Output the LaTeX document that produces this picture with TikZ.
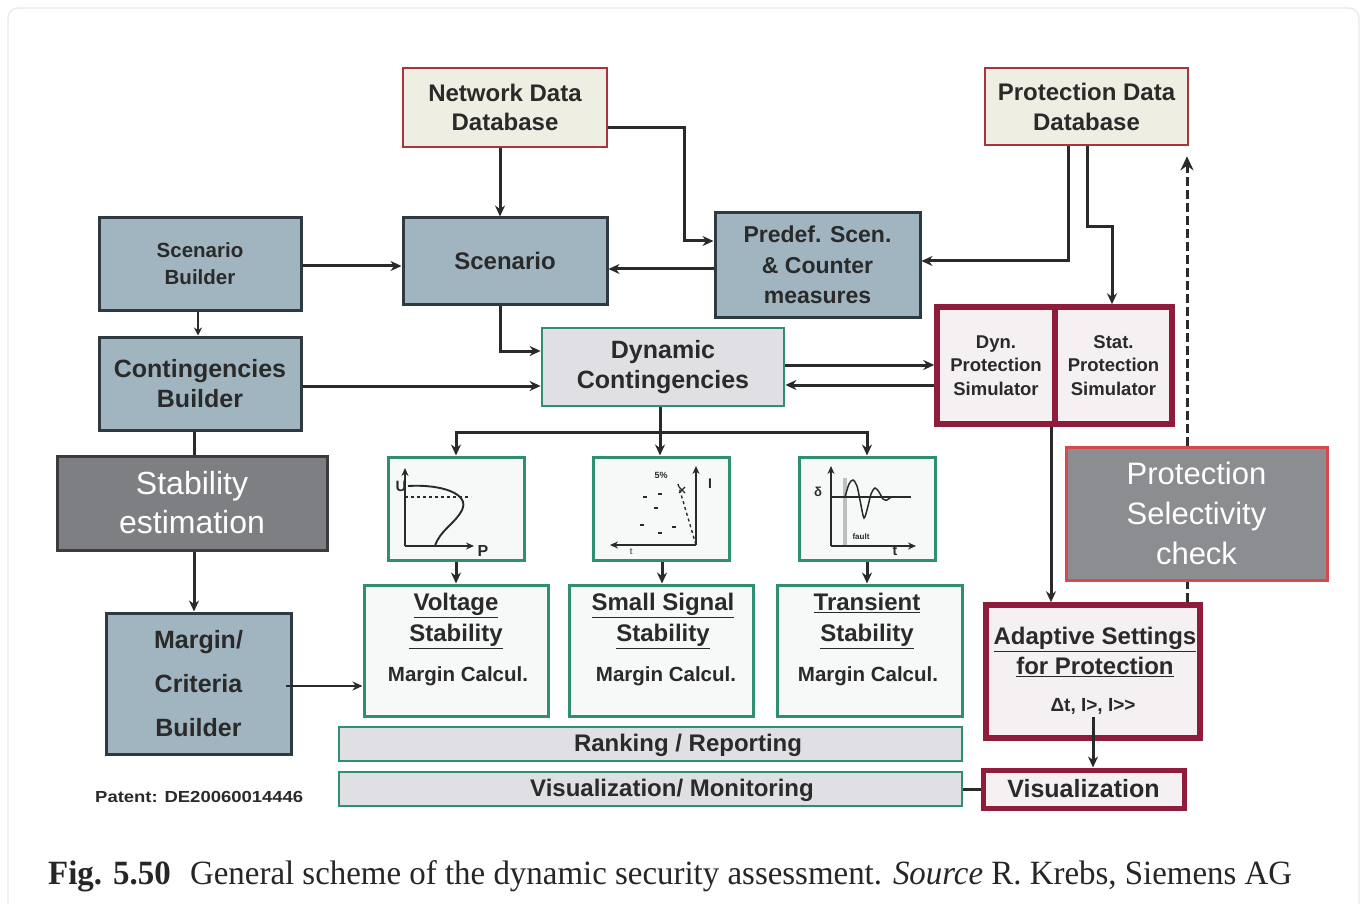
\documentclass[tikz,border=0pt]{standalone}
\usepackage{fontspec}
\usepackage{graphicx}
\setmainfont{Liberation Serif}
\newfontfamily\lsans{Liberation Sans}
\usetikzlibrary{arrows.meta,calc}

\definecolor{bluefill}{HTML}{A0B5C0}
\definecolor{blueedge}{HTML}{2E3A40}
\definecolor{beige}{HTML}{EFEEE2}
\definecolor{dbred}{HTML}{A8353C}
\definecolor{greenedge}{HTML}{2F8F72}
\definecolor{lightfill}{HTML}{E0DFE3}
\definecolor{paperfill}{HTML}{F7F8F8}
\definecolor{wine}{HTML}{8E1C3A}
\definecolor{winefill}{HTML}{F5F1F2}
\definecolor{greyfill}{HTML}{7E7F83}
\definecolor{greyedge}{HTML}{3C3C3F}
\definecolor{pscfill}{HTML}{8C8D91}
\definecolor{pscedge}{HTML}{D64A4C}
\definecolor{ink}{HTML}{2A2A2A}

\newcommand\undl[1]{\underline{#1}}

\tikzset{
  fnt/.style 2 args={font=\lsans\bfseries\fontsize{#1pt}{#2pt}\selectfont},
  box/.style={rectangle, inner sep=0pt, align=center, text=ink},
  bluebox/.style={box, fill=bluefill, draw=blueedge, line width=3pt},
  dbbox/.style={box, fill=beige, draw=dbred, line width=2.6pt},
  greenbox/.style={box, fill=paperfill, draw=greenedge, line width=3pt},
  greybar/.style={box, fill=lightfill, draw=greenedge, line width=2.8pt},
  winebox/.style={box, fill=winefill, draw=wine, line width=5.5pt},
  txt/.style={inner sep=0pt, align=center, text=ink},
  arr/.style={line width=3pt, draw=ink, -{Stealth[length=11pt,width=10pt]}},
  ln/.style={line width=3pt, draw=ink},
  dasharr/.style={line width=3pt, draw=ink, dash pattern=on 9pt off 4pt,
    -{Stealth[length=14pt,width=13pt]}},
  chart/.style={line width=1.9pt, draw=ink},
  chartarr/.style={chart, -{Stealth[length=8pt,width=7pt]}},
  chartlbl/.style={inner sep=0pt, text=ink, font=\lsans\bfseries\fontsize{#1pt}{#1pt}\selectfont},
}

\begin{document}
\begin{tikzpicture}[x=1pt,y=-1pt]
\useasboundingbox (0,0) rectangle (1366,904);
\fill[white] (0,0) rectangle (1366,904);
\draw[black!9, line width=1.2pt, rounded corners=10pt] (8,8) rectangle (1359,940);

% --- databases
\node[dbbox, fnt={24}{29}, minimum width=204pt, minimum height=79pt] (ndb) at (505,107.5) {Network Data\\Database};
\node[dbbox, fnt={24}{30}, minimum width=203pt, minimum height=77pt] (pdb) at (1086.5,106.5) {Protection Data\\Database};

% --- scenario row
\node[bluebox, fnt={20.5}{27}, minimum width=202pt, minimum height=92pt] (sb) at (200,264) {Scenario\\Builder};
\node[bluebox, fnt={24}{29}, minimum width=204pt, minimum height=86pt] (scen) at (505,261) {Scenario};
\node[bluebox, fnt={23}{30.5}, minimum width=205pt, minimum height=104pt] (predef) at (817.5,265) {Predef. Scen.\\\& Counter\\measures};

% --- contingencies row
\node[bluebox, fnt={25}{30}, minimum width=202pt, minimum height=93pt] (cb) at (200,383.5) {Contingencies\\Builder};
\node[greybar, fnt={25}{30}, minimum width=242pt, minimum height=78pt] (dc) at (663,367) {Dynamic\\Contingencies};
\node[winebox, fnt={18.5}{23.5}, minimum width=118pt, minimum height=117pt] (dyn) at (996,365.5) {Dyn.\\Protection\\Simulator};
\node[winebox, fnt={18.5}{23.5}, minimum width=117pt, minimum height=117pt] (stat) at (1113.5,365.5) {Stat.\\Protection\\Simulator};

% --- stability estimation and margin builder
\node[box, fill=greyfill, draw=greyedge, line width=3pt, text=white, font=\lsans\fontsize{32pt}{39pt}\selectfont, minimum width=270pt, minimum height=94pt] (se) at (192,503) {Stability\\estimation};
\node[bluebox, fnt={25}{30}, minimum width=185pt, minimum height=141pt] (mcb) at (198.5,683.5) {Margin/\\[14pt]Criteria\\[14pt]Builder};

% --- chart boxes
\node[greenbox, minimum width=136pt, minimum height=103pt] (c1) at (456,508.5) {};
\node[greenbox, minimum width=136pt, minimum height=103pt] (c2) at (661,508.5) {};
\node[greenbox, minimum width=136pt, minimum height=103pt] (c3) at (867,508.5) {};

% voltage stability: nose curve
\draw[chartarr] (405,546) -- (405,468);
\draw[chartarr] (405,546) -- (474,546);
\draw[chart, dashed, line width=1.6pt] (405,497) -- (471,497);
\draw[chart] (408,486) .. controls (442,484) and (470,494) .. (462,510) .. controls (455,524) and (440,530) .. (435,546);
\node[chartlbl=15] (u1) at (401,486) {U};
\node[chartlbl=16] (p1) at (483,551) {P};

% small signal: eigenvalue plane
\draw[chartarr] (696,545) -- (696,466);
\draw[chartarr] (696,545) -- (610,545);
\draw[chart, dashed, line width=1.4pt] (678,484) -- (696,545);
\foreach \px/\py in {645/497, 660/494, 656/508, 642/525, 674/527, 660/533}
  \draw[line width=1.4pt, ink] (\px-2,\py) -- (\px+2,\py);
\draw[line width=1.2pt, ink] (679,487) -- (685,493) (685,487) -- (679,493);
\node[chartlbl=9] (pct) at (661,475) {5\%};
\node[chartlbl=14] (i2) at (710,484) {I};
\node[chartlbl=9, text=ink!70] (t2) at (631,552) {t};

% transient stability: rotor angle swing
\fill[black!25] (843,478) rectangle (847,546);
\draw[chartarr] (831,546) -- (831,466);
\draw[chartarr] (831,546) -- (916,546);
\draw[chart, line width=1.4pt] (831,497) -- (911,497);
\draw[chart, line width=1.5pt] plot[smooth] coordinates {(845,497) (849,484) (853,480) (857,486) (860,500) (864,518) (868,506) (871,494) (875,488) (879,492) (883,499) (887,500) (891,497)};
\node[chartlbl=13] (d3) at (818,492) {δ};
\node[chartlbl=8] (f3) at (861,537) {fault};
\node[chartlbl=14] (t3) at (895,551) {t};

% --- stability assessment boxes
\node[greenbox, minimum width=184pt, minimum height=131pt] (vs) at (456,650.5) {};
\node[greenbox, minimum width=184pt, minimum height=131pt] (ss) at (661,650.5) {};
\node[greenbox, minimum width=185pt, minimum height=131pt] (ts) at (869.5,650.5) {};
\node[txt, fnt={24}{31}] (vst) at (456,621) {\undl{Voltage}\\\undl{Stability}};
\node[txt, fnt={24}{31}] (sst) at (663,621) {\undl{Small Signal}\\\undl{Stability}};
\node[txt, fnt={24}{31}] (tst) at (867,621) {\undl{Transient}\\\undl{Stability}};
\node[txt, fnt={20.5}{24}] (vsm) at (458,676) {Margin Calcul.};
\node[txt, fnt={20.5}{24}] (ssm) at (666,676) {Margin Calcul.};
\node[txt, fnt={20.5}{24}] (tsm) at (868,676) {Margin Calcul.};

% --- reporting bars
\node[greybar, minimum width=623pt, minimum height=34pt] (rr) at (650.5,744) {};
\node[greybar, minimum width=623pt, minimum height=34pt] (vm) at (650.5,789) {};
\node[txt, fnt={24}{28}] (rrt) at (688,745) {Ranking / Reporting};
\node[txt, fnt={24}{28}] (vmt) at (672,790) {Visualization/ Monitoring};

% --- protection side
\node[winebox, minimum width=214pt, minimum height=133pt] (asp) at (1093,671.5) {};
\node[txt, fnt={24}{30}] (aspt) at (1095,652) {\undl{Adaptive Settings}\\\undl{for Protection}};
\node[txt, fnt={19}{22}] (dt) at (1093,706) {Δt, I>, I>>};
\node[winebox, fnt={25}{29}, line width=5pt, minimum width=201pt, minimum height=38pt] (vis) at (1083.5,789) {Visualization};

\node[anchor=base west, inner sep=0pt, text=ink, font=\lsans\bfseries\fontsize{16pt}{18pt}\selectfont] (pat) at (95,802) {\resizebox{208pt}{\height}{Patent: DE20060014446}};

% --- connectors
\draw[arr] ($(ndb.south)+(-5,0)$) -- ($(scen.north)+(-5,0)$);
\draw[arr] ($(ndb.east)+(0,20.5)$) -- ++(76,0) |- ($(predef.west)+(0,-24)$);
\draw[arr] ($(sb.east)+(0,2)$) -- ($(scen.west)+(0,5)$);
\draw[arr] ($(predef.west)+(0,4)$) -- ($(scen.east)+(0,8)$);
\draw[arr] ($(pdb.south)+(-18.5,0)$) |- ($(predef.east)+(0,-4)$);
\draw[arr] ($(pdb.south)+(0.5,0)$) -- ++(0,80) -| ($(stat.north)+(-1.5,0)$);
\draw[line width=2.4pt, ink, -{Stealth[length=8pt,width=8pt]}] ($(sb.south)+(-2,0)$) -- ($(cb.north)+(-2,0)$);
\draw[arr] ($(scen.south)+(-5,0)$) |- ($(dc.west)+(0,-16)$);
\draw[arr] ($(cb.east)+(0,2.5)$) -- ($(dc.west)+(0,19)$);
\draw[arr] ($(dc.east)+(0,-2)$) -- ($(dyn.west)+(0,-0.5)$);
\draw[arr] ($(dyn.west)+(0,19.5)$) -- ($(dc.east)+(0,18)$);

\coordinate (bus) at (660,432);
\draw[ln] ($(dc.south)+(-3,0)$) -- (bus);
\draw[arr] (bus) -| (c1.north);
\draw[arr] (bus) -| (c3.north);
\draw[arr] (bus) -- (c2.north -| bus);
\draw[arr] (c1.south) -- (vs.north);
\draw[arr] ($(c2.south)+(1,0)$) -- ($(ss.north)+(1,0)$);
\draw[arr] (c3.south) -- (c3.south |- ts.north);

\draw[ln] ($(cb.south)+(-6,0)$) -- ($(se.north)+(2,0)$);
\draw[arr] ($(se.south)+(2,0)$) -- ($(mcb.north)+(-4.5,0)$);
\draw[line width=2.4pt, ink, -{Stealth[length=10pt,width=9pt]}] ($(mcb.east)+(-7,2.5)$) -- ($(vs.west)+(0,35.5)$);

\draw[arr] ($(dyn.south)+(55,0)$) -- ($(asp.north)+(-42,0)$);
\draw[dasharr] ($(asp.north)+(94,0)$) -- ($(pdb.south)+(100.5,10)$);
\draw[arr] ($(dt.south)+(0,3)$) -- (dt.south |- vis.north);
\draw[ln] (vm.east) -- (vis.west);

% selectivity check sits over the dashed feedback line
\node[box, fill=pscfill, draw=pscedge, line width=3pt, text=white, font=\lsans\fontsize{31pt}{40pt}\selectfont, minimum width=261pt, minimum height=133pt] (psc) at (1196.5,513.5) {Protection\\Selectivity\\check};

% --- caption
\node[anchor=base west, inner sep=0pt, text=black!85, font=\fontsize{34pt}{40pt}\selectfont] (cap) at (48,884)
  {\resizebox{1244pt}{\height}{\textbf{Fig. 5.50}\hspace{20pt}General scheme of the dynamic security assessment. \textit{Source} R. Krebs, Siemens AG}};
\end{tikzpicture}
\end{document}
